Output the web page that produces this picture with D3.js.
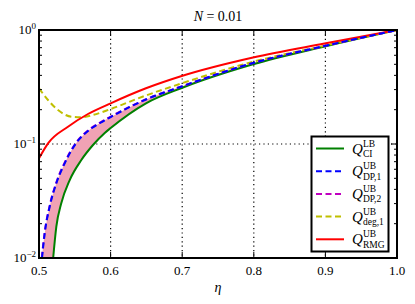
<!DOCTYPE html>
<html>
<head>
<meta charset="utf-8">
<script src="https://cdn.jsdelivr.net/npm/d3@7"></script>
<style>
  body { margin: 0; background: #fff; }
  svg text, svg tspan { font-family: "Liberation Serif", "DejaVu Serif", "Noto Serif", serif; }
</style>
</head>
<body>
<div id="chart"></div>
<script>
// values
const xTicks = [0.5, 0.6, 0.7, 0.8, 0.9, 1.0];
const xGrid = [0.6, 0.7, 0.8, 0.9];
const yTicks = [0.01, 0.1, 1];
const yTickLabels = ["\u22122", "\u22121", "0"];

const ciEta = [0.5198, 0.5242, 0.5311, 0.5429, 0.5591, 0.5754, 0.5918, 0.6001, 0.6494, 0.6993, 0.7989, 0.8987, 1.0];
const ciQ   = [0.0100, 0.0188, 0.0302, 0.0483, 0.0724, 0.0980, 0.1249, 0.1381, 0.2275, 0.3100, 0.5003, 0.7165, 1.0];

const dp1Eta = [0.5042, 0.5080, 0.5149, 0.5242, 0.5359, 0.5510, 0.5684, 0.5852, 0.6001, 0.6494, 0.6993, 0.7989, 0.8987, 1.0];
const dp1Q   = [0.0100, 0.0165, 0.0282, 0.0452, 0.0677, 0.1000, 0.1300, 0.1528, 0.1725, 0.2457, 0.3195, 0.5136, 0.7237, 1.0];

const dp2Eta = [0.5038, 0.5080, 0.5149, 0.5242, 0.5359, 0.5510, 0.5684, 0.5852, 0.6001, 0.6494, 0.6993, 0.7989, 0.8987, 1.0];
const dp2Q   = [0.0100, 0.0169, 0.0288, 0.0461, 0.0689, 0.1014, 0.1314, 0.1541, 0.1738, 0.2468, 0.3204, 0.5142, 0.7240, 1.0];

const degEta = [0.5, 0.5126, 0.5265, 0.5451, 0.5591, 0.5754, 0.6001, 0.6494, 0.6993, 0.7989, 0.8987, 1.0];
const degQ   = [0.3081, 0.2432, 0.1987, 0.1736, 0.1715, 0.1797, 0.2028, 0.2664, 0.3406, 0.5262, 0.7267, 1.0];

const rmgEta = [0.5, 0.5126, 0.5405, 0.5684, 0.6001, 0.6494, 0.6993, 0.7989, 0.8987, 1.0];
const rmgQ   = [0.0749, 0.1014, 0.1418, 0.1833, 0.2275, 0.3081, 0.3948, 0.5738, 0.7613, 1.0];

const series = [
  { name: "ci",  eta: ciEta,  q: ciQ,  color: "#008000", dash: null,  sup: "LB", sub: "CI" },
  { name: "dp1", eta: dp1Eta, q: dp1Q, color: "#0000ff", dash: "6,3.5", sup: "UB", sub: "DP,1" },
  { name: "dp2", eta: dp2Eta, q: dp2Q, color: "#bf00bf", dash: "6,3.5", sup: "UB", sub: "DP,2" },
  { name: "deg", eta: degEta, q: degQ, color: "#bfbf00", dash: "6,3.5", sup: "UB", sub: "deg,1" },
  { name: "rmg", eta: rmgEta, q: rmgQ, color: "#ff0000", dash: null,  sup: "UB", sub: "RMG" }
];

function drawChart() {
  const container = d3.select("#chart");
  container.selectAll("*").remove();

  const width = 415, height = 304;
  const margin = { top: 30, right: 18, bottom: 46, left: 39 };

  const svg = container.append("svg")
    .attr("width", width)
    .attr("height", height);

  const x = d3.scaleLinear()
    .domain([0.5, 1.0])
    .range([margin.left, width - margin.right]);

  const y = d3.scaleLog()
    .domain([0.01, 1])
    .range([height - margin.bottom, margin.top]);

  svg.append("clipPath").attr("id", "clip")
    .append("rect")
    .attr("x", x(0.5)).attr("y", y(1))
    .attr("width", x(1) - x(0.5)).attr("height", y(0.01) - y(1));

  // grid
  const grid = svg.append("g");
  grid.selectAll("line.gx").data(xGrid).join("line")
    .attr("x1", d => x(d)).attr("x2", d => x(d))
    .attr("y1", y(1)).attr("y2", y(0.01))
    .attr("stroke", "#000").attr("stroke-width", 1.2)
    .attr("stroke-dasharray", "1.2,3.2");
  grid.append("line")
    .attr("x1", x(0.5)).attr("x2", x(1))
    .attr("y1", y(0.1)).attr("y2", y(0.1))
    .attr("stroke", "#000").attr("stroke-width", 1.2)
    .attr("stroke-dasharray", "1.2,3.2");

  const plot = svg.append("g").attr("clip-path", "url(#clip)");

  const line = d3.line()
    .x(d => x(d[0]))
    .y(d => y(d[1]))
    .curve(d3.curveMonotoneX);

  const pts = s => s.eta.map((e, i) => [e, s.q[i]]);

  // shaded region between CI lower bound and DP,1 upper bound
  const band = pts(series[1]).concat(pts(series[0]).reverse());
  plot.append("path")
    .attr("d", d3.line().x(d => x(d[0])).y(d => y(d[1])).curve(d3.curveCatmullRom.alpha(0.5))(band) + "Z")
    .attr("fill", "#f0a2b4")
    .attr("stroke", "none");

  const drawOrder = ["ci", "deg", "rmg", "dp2", "dp1"];
  drawOrder.forEach(n => {
    const s = series.find(d => d.name === n);
    plot.append("path")
      .datum(pts(s))
      .attr("fill", "none")
      .attr("stroke", s.color)
      .attr("stroke-width", 2)
      .attr("stroke-dasharray", s.dash)
      .attr("d", line);
  });

  // ticks (inward, mirrored)
  const tickG = svg.append("g").attr("stroke", "#000").attr("stroke-width", 1);
  xTicks.forEach(t => {
    tickG.append("line").attr("x1", x(t)).attr("x2", x(t))
      .attr("y1", y(0.01)).attr("y2", y(0.01) - 6);
    tickG.append("line").attr("x1", x(t)).attr("x2", x(t))
      .attr("y1", y(1)).attr("y2", y(1) + 6);
  });
  const minor = [];
  [0.01, 0.1].forEach(dec => { for (let k = 2; k <= 9; k++) minor.push(dec * k); });
  yTicks.forEach(t => {
    tickG.append("line").attr("x1", x(0.5)).attr("x2", x(0.5) + 6)
      .attr("y1", y(t)).attr("y2", y(t));
    tickG.append("line").attr("x1", x(1)).attr("x2", x(1) - 6)
      .attr("y1", y(t)).attr("y2", y(t));
  });
  minor.forEach(t => {
    tickG.append("line").attr("x1", x(0.5)).attr("x2", x(0.5) + 3)
      .attr("y1", y(t)).attr("y2", y(t));
    tickG.append("line").attr("x1", x(1)).attr("x2", x(1) - 3)
      .attr("y1", y(t)).attr("y2", y(t));
  });

  // frame
  svg.append("rect")
    .attr("x", x(0.5)).attr("y", y(1))
    .attr("width", x(1) - x(0.5)).attr("height", y(0.01) - y(1))
    .attr("fill", "none").attr("stroke", "#000").attr("stroke-width", 2);

  // tick labels
  svg.append("g").selectAll("text").data(xTicks).join("text")
    .attr("x", d => x(d)).attr("y", y(0.01) + 17)
    .attr("text-anchor", "middle")
    .attr("font-size", 13)
    .text(d => d3.format(".1f")(d));

  yTicks.forEach((t, i) => {
    const txt = svg.append("text")
      .attr("x", x(0.5) - 3).attr("y", y(t) + 4)
      .attr("text-anchor", "end")
      .attr("font-size", 13);
    txt.append("tspan").text("10");
    txt.append("tspan").attr("dy", -5).attr("font-size", 9).text(yTickLabels[i]);
  });

  // axis label and title
  svg.append("text")
    .attr("x", (x(0.5) + x(1)) / 2).attr("y", height - 12)
    .attr("text-anchor", "middle").attr("font-size", 14)
    .attr("font-style", "italic").text("\u03b7");

  const title = svg.append("text")
    .attr("x", (x(0.5) + x(1)) / 2).attr("y", 21)
    .attr("text-anchor", "middle").attr("font-size", 14);
  title.append("tspan").attr("font-style", "italic").text("N");
  title.append("tspan").text(" = 0.01");

  // legend
  const lg = svg.append("g");
  lg.append("rect")
    .attr("x", 311.5).attr("y", 136.5).attr("width", 77).attr("height", 115)
    .attr("fill", "#fff").attr("stroke", "#000").attr("stroke-width", 2);
  series.forEach((s, i) => {
    const cy = 148.5 + i * 22.7;
    lg.append("line")
      .attr("x1", 316).attr("x2", 344)
      .attr("y1", cy).attr("y2", cy)
      .attr("stroke", s.color).attr("stroke-width", 2)
      .attr("stroke-dasharray", s.dash);
    const t = lg.append("text").attr("y", cy + 5).attr("font-size", 15);
    t.append("tspan").attr("x", 352).attr("font-style", "italic").text("Q");
    t.append("tspan").attr("x", 363).attr("dy", -7).attr("font-size", 9.5).text(s.sup);
    t.append("tspan").attr("x", 363).attr("dy", 10.5).attr("font-size", 9.5).text(s.sub);
  });
}

drawChart();
</script>
</body>
</html>
